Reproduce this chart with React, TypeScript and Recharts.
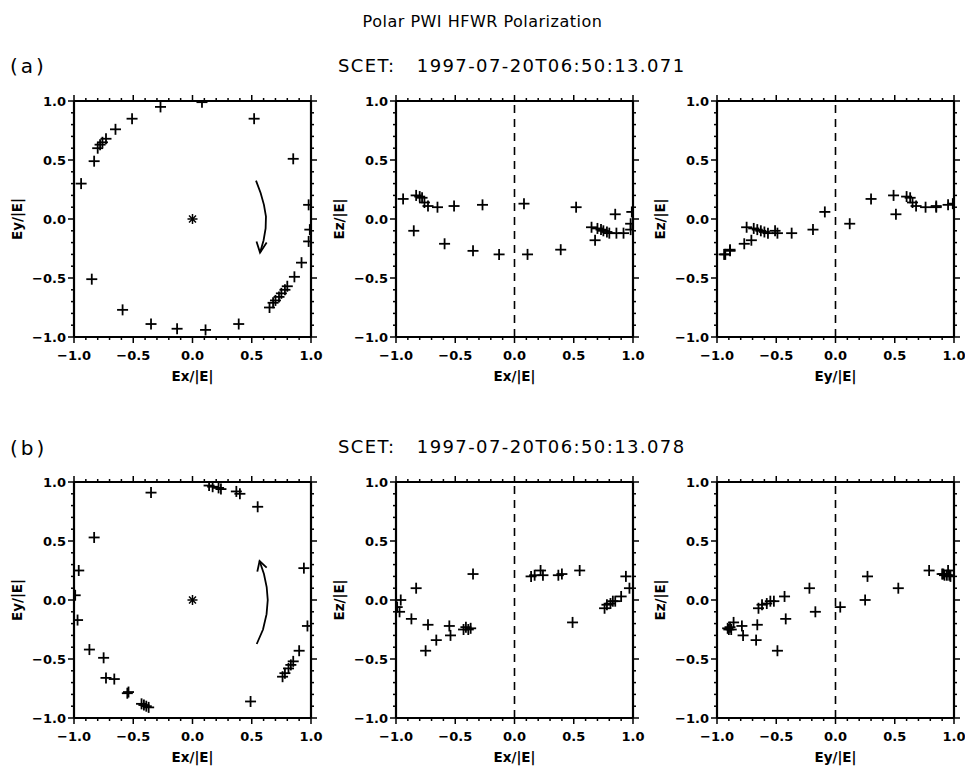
import React from "react";
import { ScatterChart, Scatter, XAxis, YAxis, ReferenceLine } from "recharts";

const TICKS = [-1, -0.9, -0.8, -0.7, -0.6, -0.5, -0.4, -0.3, -0.2, -0.1, 0, 0.1, 0.2, 0.3, 0.4, 0.5, 0.6, 0.7, 0.8, 0.9, 1];

// (a) SCET 1997-07-20T06:50:13.071, one entry per sample
const EX_A = [-0.94, -0.85, -0.83, -0.8, -0.78, -0.76, -0.73, -0.65, -0.59, -0.51, -0.35, -0.27, -0.13, 0.08, 0.11, 0.39, 0.52, 0.65, 0.68, 0.7, 0.73, 0.75, 0.78, 0.8, 0.85, 0.86, 0.92, 0.98, 0.98, 0.99];
const EY_A = [0.3, -0.51, 0.49, 0.6, 0.63, 0.65, 0.68, 0.76, -0.77, 0.85, -0.89, 0.95, -0.93, 0.99, -0.94, -0.89, 0.85, -0.75, -0.71, -0.69, -0.66, -0.63, -0.6, -0.57, 0.51, -0.49, -0.37, 0.12, -0.19, -0.09];
const EZ_A = [0.17, -0.1, 0.2, 0.19, 0.18, 0.14, 0.11, 0.1, -0.21, 0.11, -0.27, 0.12, -0.3, 0.13, -0.3, -0.26, 0.1, -0.07, -0.18, -0.08, -0.09, -0.1, -0.11, -0.12, 0.04, -0.12, -0.12, -0.04, -0.09, 0.06];

// (b) SCET 1997-07-20T06:50:13.078
const EX_B = [-0.99, -0.97, -0.96, -0.87, -0.83, -0.75, -0.73, -0.66, -0.55, -0.54, -0.43, -0.41, -0.39, -0.37, -0.35, 0.14, 0.17, 0.22, 0.24, 0.37, 0.4, 0.49, 0.55, 0.76, 0.78, 0.81, 0.83, 0.85, 0.9, 0.94, 0.97];
const EY_B = [0.04, -0.17, 0.25, -0.42, 0.53, -0.49, -0.66, -0.67, -0.79, -0.78, -0.88, -0.89, -0.9, -0.91, 0.91, 0.97, 0.96, 0.95, 0.94, 0.92, 0.9, -0.86, 0.79, -0.65, -0.62, -0.58, -0.55, -0.52, -0.43, 0.27, -0.22];
const EZ_B = [-0.06, -0.1, 0.0, -0.16, 0.1, -0.43, -0.21, -0.34, -0.22, -0.3, -0.25, -0.23, -0.25, -0.24, 0.22, 0.2, 0.21, 0.25, 0.21, 0.21, 0.22, -0.19, 0.25, -0.07, -0.04, -0.03, -0.01, -0.01, 0.03, 0.2, 0.1];

const CENTER_X = [0];
const CENTER_Y = [0];

// rotation arrows (data coords)
const ARROW_A_X = [0.536, 0.575, 0.603, 0.62, 0.617, 0.6, 0.57];
const ARROW_A_Y = [0.325, 0.22, 0.12, 0.02, -0.08, -0.18, -0.285];
const HEAD_A_X = [0.54, 0.57, 0.626];
const HEAD_A_Y = [-0.19, -0.285, -0.2];
const ARROW_B_X = [0.542, 0.595, 0.625, 0.635, 0.626, 0.603, 0.566];
const ARROW_B_Y = [-0.373, -0.25, -0.12, 0.0, 0.11, 0.22, 0.33];
const HEAD_B_X = [0.547, 0.566, 0.626];
const HEAD_B_Y = [0.24, 0.33, 0.274];

const FONT = "DejaVu Sans";
const PLOT_W = 237;
const PLOT_H = 236;
const LEFT_W = 70;
const RIGHT_W = 14;
const TOP_H = 12;
const BOTTOM_H = 52;

type Pt = { x: number; y: number };
const zip = (xs: number[], ys: number[]): Pt[] => xs.map((x, i) => ({ x, y: ys[i] }));

const isMajor = (v: number) => Math.abs(v * 2 - Math.round(v * 2)) < 1e-6;
const fmt = (v: number) => (Math.abs(v) < 1e-9 ? "0.0" : v.toFixed(1).replace("-", "\u2212"));

const AxisTick = (props: any) => {
  const { x, y, payload, side } = props;
  const v = payload.value;
  const major = isMajor(v);
  const len = major ? 6 : 3;
  const line = { stroke: "#000", strokeWidth: 1.5 };
  const label = { fontSize: 13, fontWeight: "bold" as const, fontFamily: FONT, fill: "#000" };
  if (side === "bottom")
    return (
      <g>
        <line x1={x} y1={y} x2={x} y2={y + len} {...line} />
        {major && <text x={x} y={y + 23} textAnchor="middle" {...label}>{fmt(v)}</text>}
      </g>
    );
  if (side === "top") return <line x1={x} y1={y} x2={x} y2={y - len} {...line} />;
  if (side === "left")
    return (
      <g>
        <line x1={x} y1={y} x2={x - len} y2={y} {...line} />
        {major && <text x={x - 8} y={y + 5} textAnchor="end" {...label}>{fmt(v)}</text>}
      </g>
    );
  return <line x1={x} y1={y} x2={x + len} y2={y} {...line} />;
};

const XTitle = ({ viewBox, text }: any) => (
  <text x={viewBox.x + viewBox.width / 2} y={viewBox.y + 44} textAnchor="middle" fontSize={13.5} fontWeight="bold" fontFamily={FONT} fill="#000">
    {text}
  </text>
);

const YTitle = ({ viewBox, text }: any) => {
  const cx = viewBox.x + 13;
  const cy = viewBox.y + viewBox.height / 2;
  return (
    <text x={cx} y={cy} transform={`rotate(-90 ${cx} ${cy})`} textAnchor="middle" dominantBaseline="central" fontSize={13.5} fontWeight="bold" fontFamily={FONT} fill="#000">
      {text}
    </text>
  );
};

const Plus = ({ cx, cy }: any) => (
  <g stroke="#000" strokeWidth={1.8}>
    <line x1={cx - 5.5} y1={cy} x2={cx + 5.5} y2={cy} />
    <line x1={cx} y1={cy - 5.5} x2={cx} y2={cy + 5.5} />
  </g>
);

const Star = ({ cx, cy }: any) => (
  <g stroke="#000" strokeWidth={1.5}>
    <line x1={cx - 5} y1={cy} x2={cx + 5} y2={cy} />
    <line x1={cx} y1={cy - 5} x2={cx} y2={cy + 5} />
    <line x1={cx - 3.5} y1={cy - 3.5} x2={cx + 3.5} y2={cy + 3.5} />
    <line x1={cx - 3.5} y1={cy + 3.5} x2={cx + 3.5} y2={cy - 3.5} />
  </g>
);

const Nothing = () => <g />;

type PanelProps = {
  left: number;
  top: number;
  points: Pt[];
  xTitle: string;
  yTitle: string;
  dashed?: boolean;
  center?: boolean;
  arrow?: Pt[];
  head?: Pt[];
};

const Panel = ({ left, top, points, xTitle, yTitle, dashed, center, arrow, head }: PanelProps) => (
  <div style={{ position: "absolute", left: left - LEFT_W, top: top - TOP_H }}>
    <ScatterChart width={LEFT_W + PLOT_W + RIGHT_W} height={TOP_H + PLOT_H + BOTTOM_H} margin={{ top: 0, right: 0, bottom: 0, left: 0 }}>
      <XAxis xAxisId="b" type="number" dataKey="x" domain={[-1, 1]} ticks={TICKS} interval={0} allowDataOverflow height={BOTTOM_H}
        orientation="bottom" tickSize={0} tickMargin={0} tickLine={false} axisLine={{ stroke: "#000", strokeWidth: 2.2 }}
        tick={(p: any) => <AxisTick {...p} side="bottom" />} label={<XTitle text={xTitle} />} />
      <XAxis xAxisId="t" type="number" dataKey="x" domain={[-1, 1]} ticks={TICKS} interval={0} allowDataOverflow height={TOP_H}
        orientation="top" tickSize={0} tickMargin={0} tickLine={false} axisLine={{ stroke: "#000", strokeWidth: 2.2 }}
        tick={(p: any) => <AxisTick {...p} side="top" />} />
      <YAxis yAxisId="l" type="number" dataKey="y" domain={[-1, 1]} ticks={TICKS} interval={0} allowDataOverflow width={LEFT_W}
        orientation="left" tickSize={0} tickMargin={0} tickLine={false} axisLine={{ stroke: "#000", strokeWidth: 2.2 }}
        tick={(p: any) => <AxisTick {...p} side="left" />} label={<YTitle text={yTitle} />} />
      <YAxis yAxisId="r" type="number" dataKey="y" domain={[-1, 1]} ticks={TICKS} interval={0} allowDataOverflow width={RIGHT_W}
        orientation="right" tickSize={0} tickMargin={0} tickLine={false} axisLine={{ stroke: "#000", strokeWidth: 2.2 }}
        tick={(p: any) => <AxisTick {...p} side="right" />} />
      {dashed && <ReferenceLine xAxisId="b" yAxisId="l" x={0} stroke="#000" strokeWidth={1.6} strokeDasharray="8 6" />}
      <Scatter xAxisId="t" yAxisId="r" data={points} shape={Nothing} isAnimationActive={false} />
      <Scatter xAxisId="b" yAxisId="l" data={points} shape={Plus} isAnimationActive={false} />
      {center && <Scatter xAxisId="b" yAxisId="l" data={zip(CENTER_X, CENTER_Y)} shape={Star} isAnimationActive={false} />}
      {arrow && (
        <Scatter xAxisId="b" yAxisId="l" data={arrow} shape={Nothing} line={{ stroke: "#000", strokeWidth: 1.8 }} lineType="joint" isAnimationActive={false} />
      )}
      {head && (
        <Scatter xAxisId="b" yAxisId="l" data={head} shape={Nothing} line={{ stroke: "#000", strokeWidth: 1.8 }} lineType="joint" isAnimationActive={false} />
      )}
    </ScatterChart>
  </div>
);

const COLS = [74, 396, 717];
const ROWS = [101, 482];

const Row = ({ top, ex, ey, ez, arrow, head }: { top: number; ex: number[]; ey: number[]; ez: number[]; arrow: Pt[]; head: Pt[] }) => (
  <>
    <Panel left={COLS[0]} top={top} points={zip(ex, ey)} xTitle="Ex/|E|" yTitle="Ey/|E|" center arrow={arrow} head={head} />
    <Panel left={COLS[1]} top={top} points={zip(ex, ez)} xTitle="Ex/|E|" yTitle="Ez/|E|" dashed />
    <Panel left={COLS[2]} top={top} points={zip(ey, ez)} xTitle="Ey/|E|" yTitle="Ez/|E|" dashed />
  </>
);

const headText = { position: "absolute" as const, fontFamily: FONT, color: "#000", whiteSpace: "pre" as const, lineHeight: 1 };

export default function App() {
  return (
    <div style={{ position: "absolute", left: 0, top: 0, width: 965, height: 768, background: "#fff", overflow: "hidden" }}>
      <div style={{ ...headText, left: 0, width: 965, top: 14, textAlign: "center", fontSize: 16, letterSpacing: 0.5 }}>Polar PWI HFWR Polarization</div>

      <div style={{ ...headText, left: 10, top: 56, fontSize: 20, letterSpacing: 3 }}>(a)</div>
      <div style={{ ...headText, left: 338, top: 57, fontSize: 18, letterSpacing: 1.4 }}>{"SCET:   1997-07-20T06:50:13.071"}</div>
      <Row top={ROWS[0]} ex={EX_A} ey={EY_A} ez={EZ_A} arrow={zip(ARROW_A_X, ARROW_A_Y)} head={zip(HEAD_A_X, HEAD_A_Y)} />

      <div style={{ ...headText, left: 10, top: 438, fontSize: 20, letterSpacing: 3 }}>(b)</div>
      <div style={{ ...headText, left: 338, top: 438, fontSize: 18, letterSpacing: 1.4 }}>{"SCET:   1997-07-20T06:50:13.078"}</div>
      <Row top={ROWS[1]} ex={EX_B} ey={EY_B} ez={EZ_B} arrow={zip(ARROW_B_X, ARROW_B_Y)} head={zip(HEAD_B_X, HEAD_B_Y)} />
    </div>
  );
}
